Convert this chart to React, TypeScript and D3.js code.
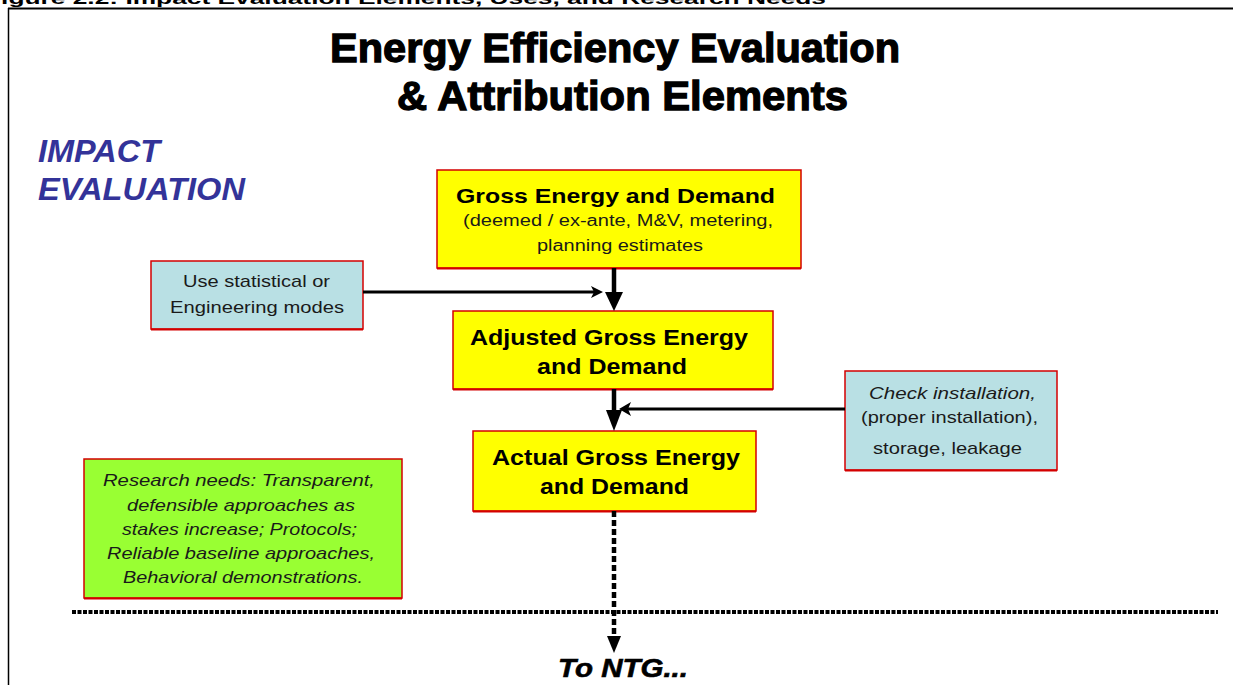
import * as d3 from "d3";
import { useEffect, useRef } from "react";

// text content of the diagram
const figureCaption = "Figure 2.2: Impact Evaluation Elements, Uses, and Research Needs";
const titleLines = ["Energy Efficiency Evaluation", "& Attribution Elements"];
const sectionLines = ["IMPACT", "EVALUATION"];
const grossLines = ["Gross Energy and Demand", "(deemed / ex-ante, M&V, metering,", "planning estimates"];
const modelLines = ["Use statistical or", "Engineering modes"];
const adjustedLines = ["Adjusted Gross Energy", "and Demand"];
const checkLines = ["Check installation,", "(proper installation),", "storage, leakage"];
const actualLines = ["Actual Gross Energy", "and Demand"];
const researchLines = [
  "Research needs:  Transparent,",
  "defensible approaches as",
  "stakes increase; Protocols;",
  "Reliable baseline approaches,",
  "Behavioral demonstrations.",
];
const footLabel = "To NTG...";

const W = 1233;
const H = 685;
const FONT = "'Liberation Sans', Arial, sans-serif";
const YELLOW = "#ffff00";
const CYAN = "#b9e0e4";
const GREEN = "#99ff33";
const RED = "#d40000";

// layout: [x0, x1, baseline] per line
const boxes = [
  {
    rect: [437, 170, 364, 98], fill: YELLOW, lines: grossLines,
    pos: [[456, 775, 203], [463, 773, 226], [537, 703, 251]],
    style: [["bold", "normal", 21], ["normal", "normal", 16], ["normal", "normal", 16]],
  },
  {
    rect: [151, 261, 212, 68], fill: CYAN, lines: modelLines,
    pos: [[183, 330, 287], [170, 344, 313]],
    style: [["normal", "normal", 17], ["normal", "normal", 17]],
  },
  {
    rect: [453, 311, 320, 78], fill: YELLOW, lines: adjustedLines,
    pos: [[470, 748, 345], [537, 687, 374]],
    style: [["bold", "normal", 22], ["bold", "normal", 22]],
  },
  {
    rect: [845, 371, 212, 99], fill: CYAN, lines: checkLines,
    pos: [[869, 1036, 399], [861, 1038, 423], [873, 1022, 454]],
    style: [["normal", "italic", 17], ["normal", "normal", 17], ["normal", "normal", 17]],
  },
  {
    rect: [473, 431, 283, 80], fill: YELLOW, lines: actualLines,
    pos: [[492, 740, 465], [540, 689, 494]],
    style: [["bold", "normal", 22], ["bold", "normal", 22]],
  },
  {
    rect: [84, 459, 318, 139], fill: GREEN, lines: researchLines,
    pos: [[103, 375, 486], [127, 355, 511], [122, 357, 535], [107, 375, 559], [123, 363, 583]],
    style: Array(5).fill(["normal", "italic", 17]),
  },
];

export default function App() {
  const svgRef = useRef<SVGSVGElement>(null);

  useEffect(() => {
    const svg = d3.select(svgRef.current);
    svg.selectAll("*").remove();

    svg.append("rect").attr("width", W).attr("height", H).attr("fill", "#fff");

    // page caption (clipped at top, as in the source page) and frame
    svg.append("text")
      .attr("x", -15).attr("y", 4)
      .attr("textLength", 841).attr("lengthAdjust", "spacingAndGlyphs")
      .attr("font-family", FONT).attr("font-weight", "bold").attr("font-size", 17)
      .text(figureCaption);
    svg.append("line").attr("x1", 8).attr("x2", W).attr("y1", 8.5).attr("y2", 8.5)
      .attr("stroke", "#000").attr("stroke-width", 2);
    svg.append("line").attr("x1", 8.5).attr("x2", 8.5).attr("y1", 8).attr("y2", H)
      .attr("stroke", "#000").attr("stroke-width", 1.5);

    // title
    const titlePos = [[330, 900, 62], [397, 848, 110]];
    titleLines.forEach((t, i) => {
      svg.append("text")
        .attr("x", titlePos[i][0]).attr("y", titlePos[i][2])
        .attr("textLength", titlePos[i][1] - titlePos[i][0]).attr("lengthAdjust", "spacingAndGlyphs")
        .attr("font-family", FONT).attr("font-weight", "bold").attr("font-size", 41)
        .attr("stroke", "#000").attr("stroke-width", 1.3)
        .text(t);
    });

    const sectionPos = [[38, 160, 162], [38, 245, 200]];
    sectionLines.forEach((t, i) => {
      svg.append("text")
        .attr("x", sectionPos[i][0]).attr("y", sectionPos[i][2])
        .attr("textLength", sectionPos[i][1] - sectionPos[i][0]).attr("lengthAdjust", "spacingAndGlyphs")
        .attr("font-family", FONT).attr("font-weight", "bold").attr("font-style", "italic")
        .attr("font-size", 31).attr("fill", "#333399")
        .text(t);
    });

    // boxes
    boxes.forEach(b => {
      const [x, y, w, h] = b.rect;
      const g = svg.append("g");
      g.append("rect").attr("x", x).attr("y", y).attr("width", w).attr("height", h)
        .attr("fill", b.fill).attr("stroke", RED).attr("stroke-width", 1.5);
      g.append("line").attr("x1", x).attr("x2", x + w).attr("y1", y + h + 0.5).attr("y2", y + h + 0.5)
        .attr("stroke", RED).attr("stroke-width", 2);
      b.lines.forEach((t, i) => {
        const [x0, x1, by] = b.pos[i];
        const [fw, fs, size] = b.style[i];
        g.append("text")
          .attr("x", x0).attr("y", by)
          .attr("textLength", x1 - x0).attr("lengthAdjust", "spacingAndGlyphs")
          .attr("font-family", FONT).attr("font-weight", fw).attr("font-style", fs)
          .attr("font-size", size).attr("fill", fw === "bold" ? "#000" : "#1a1a1a")
          .text(t);
      });
    });

    // arrows
    const line = (x1: number, y1: number, x2: number, y2: number, w: number, dash?: string) =>
      svg.append("line").attr("x1", x1).attr("y1", y1).attr("x2", x2).attr("y2", y2)
        .attr("stroke", "#000").attr("stroke-width", w).attr("stroke-dasharray", dash ?? null);
    const head = (pts: [number, number][]) =>
      svg.append("path").attr("d", d3.line()(pts) + "Z").attr("fill", "#000");

    line(363, 292, 596, 292, 3);
    head([[603, 292], [591, 286], [594, 292], [591, 298]]);

    line(614, 268, 614, 294, 4.5);
    head([[605, 292], [623, 292], [614, 311]]);

    line(614, 389, 614, 412, 4.5);
    head([[606, 410], [622, 410], [614, 431]]);

    line(845, 409, 628, 409, 3);
    head([[619, 409], [631, 402], [628, 409], [631, 416]]);

    line(72, 612, 1218, 612, 4, "4 1.5");

    line(614, 511, 614, 638, 4.5, "6 3");
    head([[607, 636], [621, 636], [614, 653]]);

    svg.append("text")
      .attr("x", 558).attr("y", 677)
      .attr("textLength", 130).attr("lengthAdjust", "spacingAndGlyphs")
      .attr("font-family", FONT).attr("font-weight", "bold").attr("font-style", "italic")
      .attr("font-size", 26).attr("stroke", "#000").attr("stroke-width", 0.6)
      .text(footLabel);
  }, []);

  return (
    <svg
      ref={svgRef}
      width={W}
      height={H}
      style={{ position: "absolute", left: 0, top: 0, display: "block" }}
    />
  );
}
